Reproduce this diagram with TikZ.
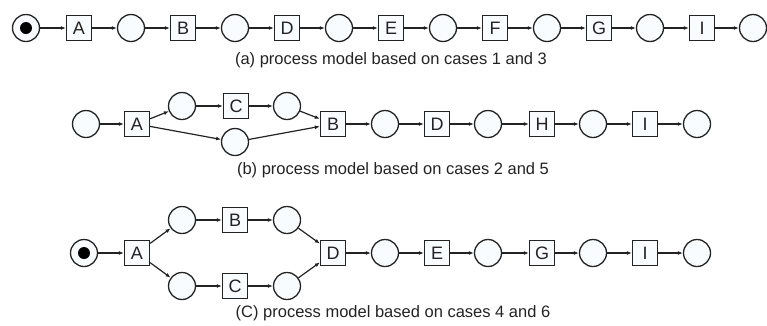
\documentclass[tikz,border=0pt]{standalone}
\usepackage{fontspec}
\setmainfont{Liberation Sans}
\usetikzlibrary{arrows.meta}

\definecolor{linec}{RGB}{35,35,35}
\definecolor{placefill}{RGB}{249,252,255}

\tikzset{
  place/.style={circle, draw=linec, fill=placefill, line width=1.3pt, minimum size=27pt, inner sep=0pt},
  trans/.style={rectangle, draw=linec, fill=placefill, line width=1.3pt, minimum size=25pt, inner sep=0pt, text=linec, font=\fontsize{18}{18}\selectfont},
  token/.style={circle, fill=black, minimum size=12pt, inner sep=0pt},
  arc/.style={-{Latex[length=5pt,width=4pt]}, line width=1.2pt, draw=linec},
  caption/.style={text=linec, font=\fontsize{16.5}{19}\selectfont}
}

\begin{document}
\begin{tikzpicture}[x=1pt, y=-1pt]
\useasboundingbox (0,0) rectangle (767,325);

% Model (a)
\node[place] (a0) at (26,28) {};
\node[token] (a0t) at (a0) {};
\node[trans] (aA) at (79,28) {A};
\node[place] (a1) at (131,28) {};
\node[trans] (aB) at (183,28) {B};
\node[place] (a2) at (235,28) {};
\node[trans] (aD) at (287,28) {D};
\node[place] (a3) at (339,28) {};
\node[trans] (aE) at (391,28) {E};
\node[place] (a4) at (443,28) {};
\node[trans] (aF) at (495,28) {F};
\node[place] (a5) at (547,28) {};
\node[trans] (aG) at (599,28) {G};
\node[place] (a6) at (650,28) {};
\node[trans] (aI) at (702,28) {I};
\node[place] (a7) at (753,28) {};
\node[caption] (capa) at (391,60) {(a) process model based on cases 1 and 3};

\draw[arc] (a0) -- (aA);
\draw[arc] (aA) -- (a1);
\draw[arc] (a1) -- (aB);
\draw[arc] (aB) -- (a2);
\draw[arc] (a2) -- (aD);
\draw[arc] (aD) -- (a3);
\draw[arc] (a3) -- (aE);
\draw[arc] (aE) -- (a4);
\draw[arc] (a4) -- (aF);
\draw[arc] (aF) -- (a5);
\draw[arc] (a5) -- (aG);
\draw[arc] (aG) -- (a6);
\draw[arc] (a6) -- (aI);
\draw[arc] (aI) -- (a7);

% Model (b)
\node[place] (b0) at (86,124) {};
\node[trans] (bA) at (137,124) {A};
\node[place] (b1) at (182,106) {};
\node[trans] (bC) at (236,106) {C};
\node[place] (b2) at (287,106) {};
\node[place] (b3) at (235,142) {};
\node[trans] (bB) at (333,124) {B};
\node[place] (b4) at (385,124) {};
\node[trans] (bD) at (437,124) {D};
\node[place] (b5) at (488,124) {};
\node[trans] (bH) at (542,124) {H};
\node[place] (b6) at (593,124) {};
\node[trans] (bI) at (645,124) {I};
\node[place] (b7) at (697,124) {};
\node[caption] (capb) at (393,170) {(b) process model based on cases 2 and 5};

\draw[arc] (b0) -- (bA);
\draw[arc] (bA) -- (b1);
\draw[arc] (b1) -- (bC);
\draw[arc] (bC) -- (b2);
\draw[arc] (b2) -- (bB);
\draw[arc] (bA) -- (b3);
\draw[arc] (b3) -- (bB);
\draw[arc] (bB) -- (b4);
\draw[arc] (b4) -- (bD);
\draw[arc] (bD) -- (b5);
\draw[arc] (b5) -- (bH);
\draw[arc] (bH) -- (b6);
\draw[arc] (b6) -- (bI);
\draw[arc] (bI) -- (b7);

% Model (c)
\node[place] (c0) at (84,253) {};
\node[token] (c0t) at (c0) {};
\node[trans] (cA) at (137,253) {A};
\node[place] (c1) at (182,220) {};
\node[trans] (cB) at (235,220) {B};
\node[place] (c2) at (287,220) {};
\node[place] (c3) at (182,286) {};
\node[trans] (cC) at (235,286) {C};
\node[place] (c4) at (287,286) {};
\node[trans] (cD) at (333,253) {D};
\node[place] (c5) at (385,253) {};
\node[trans] (cE) at (437,253) {E};
\node[place] (c6) at (488,253) {};
\node[trans] (cG) at (542,253) {G};
\node[place] (c7) at (593,253) {};
\node[trans] (cI) at (645,253) {I};
\node[place] (c8) at (697,253) {};
\node[caption] (capc) at (393,313) {(C) process model based on cases 4 and 6};

\draw[arc] (c0) -- (cA);
\draw[arc] (cA) -- (c1);
\draw[arc] (c1) -- (cB);
\draw[arc] (cB) -- (c2);
\draw[arc] (c2) -- (cD);
\draw[arc] (cA) -- (c3);
\draw[arc] (c3) -- (cC);
\draw[arc] (cC) -- (c4);
\draw[arc] (c4) -- (cD);
\draw[arc] (cD) -- (c5);
\draw[arc] (c5) -- (cE);
\draw[arc] (cE) -- (c6);
\draw[arc] (c6) -- (cG);
\draw[arc] (cG) -- (c7);
\draw[arc] (c7) -- (cI);
\draw[arc] (cI) -- (c8);
\end{tikzpicture}
\end{document}
